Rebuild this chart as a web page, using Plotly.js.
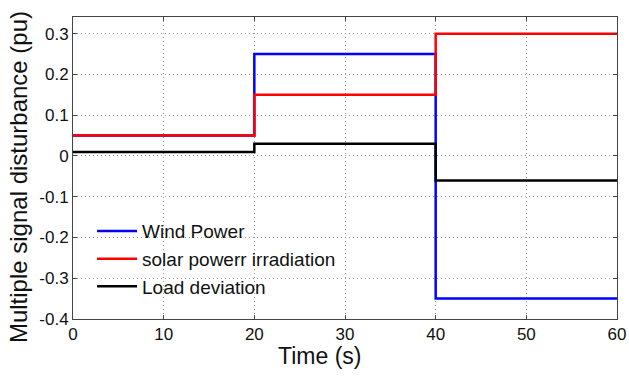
<!DOCTYPE html>
<html><head><meta charset="utf-8">
<script src="https://cdn.plot.ly/plotly-3.0.1.min.js"></script>
<style>html,body{margin:0;padding:0;background:#fff}#chart{width:629px;height:381px}</style>
</head><body><div id="chart"></div>
<script>
const time = [0, 20, 20, 40, 40, 60];
const windPower = [0.05, 0.05, 0.25, 0.25, -0.35, -0.35];
const solarIrradiation = [0.05, 0.05, 0.15, 0.15, 0.3, 0.3];
const loadDeviation = [0.01, 0.01, 0.03, 0.03, -0.06, -0.06];
const seriesNames = ['Wind Power', 'solar powerr irradiation', 'Load deviation'];
const xTicks = [0, 10, 20, 30, 40, 50, 60];
const yTicks = [-0.4, -0.3, -0.2, -0.1, 0, 0.1, 0.2, 0.3];
const yTickText = ['-0.4', '-0.3', '-0.2', '-0.1', '0', '0.1', '0.2', '0.3'];
const xTitle = 'Time (s)';
const yTitle = 'Multiple signal disturbance (pu)';

const FONT = 'Liberation Sans, Arial';
const mk = (y, name, color) => ({x: time, y: y, name: name, type: 'scatter', mode: 'lines',
  line: {color: color, width: 2.5}});
const data = [
  mk(windPower, seriesNames[0], '#0000ff'),
  mk(solarIrradiation, seriesNames[1], '#ff0000'),
  mk(loadDeviation, seriesNames[2], '#000000')
];
const axisCommon = {showline: true, mirror: 'ticks', linecolor: '#444', linewidth: 1,
  ticks: 'inside', ticklen: 4, tickcolor: '#444', showgrid: true, gridcolor: '#999',
  griddash: '1px,3px', gridwidth: 1, zeroline: false,
  tickfont: {family: FONT, size: 17, color: '#111'}};
const layout = {
  width: 629, height: 381,
  margin: {l: 73, r: 12, t: 17, b: 62},
  paper_bgcolor: '#fff', plot_bgcolor: '#fff',
  showlegend: true,
  legend: {x: 0.035, y: 0.354, xanchor: 'left', yanchor: 'top', bgcolor: 'rgba(0,0,0,0)',
    font: {family: FONT, size: 19, color: '#111'}, tracegroupgap: 0, itemwidth: 40},
  xaxis: Object.assign({}, axisCommon, {range: [0, 60], tickvals: xTicks}),
  yaxis: Object.assign({}, axisCommon, {range: [-0.4, 0.341], tickvals: yTicks, ticktext: yTickText}),
  annotations: [
    {text: xTitle, xref: 'paper', yref: 'paper', x: 0.454, y: -0.072, xanchor: 'center', yanchor: 'top',
      showarrow: false, font: {family: FONT, size: 23, color: '#111'}},
    {text: yTitle, xref: 'paper', yref: 'paper', x: -0.101, y: 0.47, xanchor: 'center', yanchor: 'middle',
      textangle: -90, showarrow: false, font: {family: FONT, size: 24, color: '#111'}}
  ]
};
Plotly.newPlot('chart', data, layout, {displayModeBar: false, staticPlot: true});
</script></body></html>
